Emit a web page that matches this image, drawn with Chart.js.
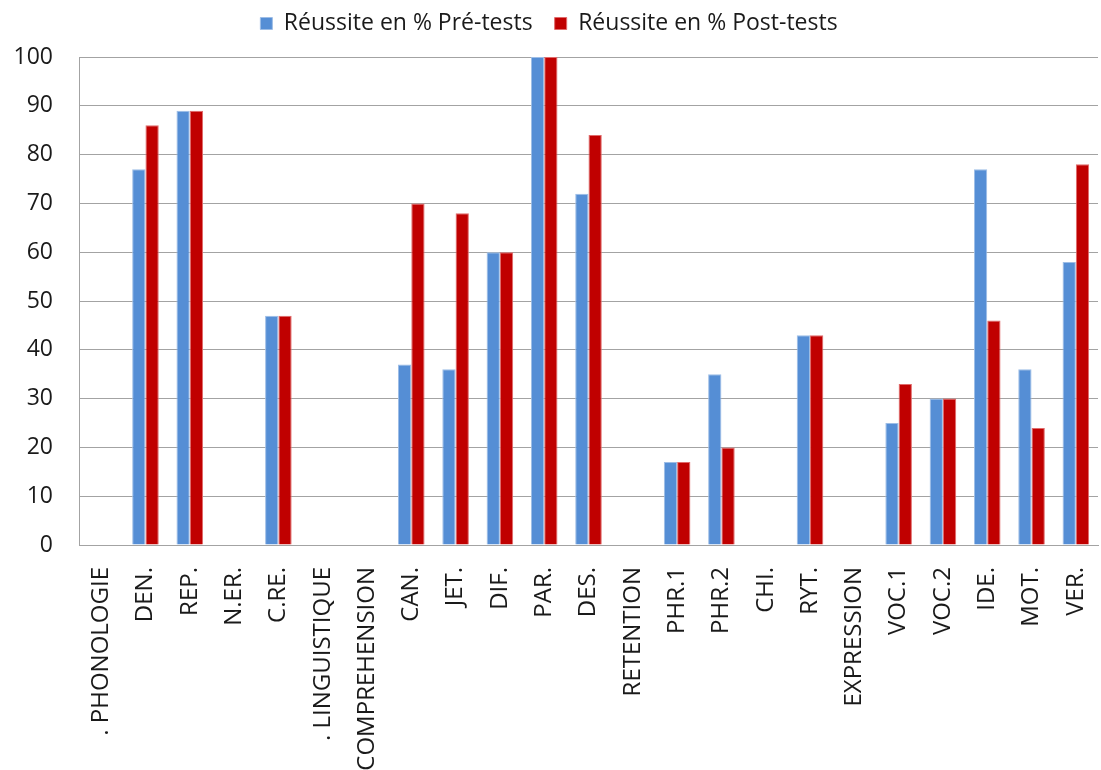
<!DOCTYPE html>
<html>
<head>
<meta charset="utf-8">
<script src="https://cdn.jsdelivr.net/npm/chart.js@4/dist/chart.umd.min.js"></script>
<style>
  html, body { margin: 0; padding: 0; background: #ffffff; }
  #wrap { width: 1101px; height: 770px; }
</style>
</head>
<body>
<div id="wrap"><canvas id="c" width="1101" height="770"></canvas></div>
<script>
const categories = [". PHONOLOGIE", "DEN.", "REP.", "N.ER.", "C.RE.", ". LINGUISTIQUE", "COMPREHENSION",
  "CAN.", "JET.", "DIF.", "PAR.", "DES.", "RETENTION", "PHR.1", "PHR.2", "CHI.", "RYT.",
  "EXPRESSION", "VOC.1", "VOC.2", "IDE.", "MOT.", "VER."];
const preTests  = [null, 77, 89, null, 47, null, null, 37, 36, 60, 100, 72, null, 17, 35, null, 43, null, 25, 30, 77, 36, 58];
const postTests = [null, 86, 89, null, 47, null, null, 70, 68, 60, 100, 84, null, 17, 20, null, 43, null, 33, 30, 46, 24, 78];
const seriesNames = ["Réussite en % Pré-tests", "Réussite en % Post-tests"];
const yTicks = [0, 10, 20, 30, 40, 50, 60, 70, 80, 90, 100];

const FONT = "'Open Sans', 'DejaVu Sans', sans-serif";
const gridColor = "#a3a3a3";

// moves the legend up a little after layout (Excel places it higher above the plot)
const legendShift = {
  id: "legendShift",
  afterLayout(chart) {
    const lg = chart.legend;
    if (lg) { lg.top -= 12; lg.bottom -= 12; }
  }
};

new Chart(document.getElementById("c"), {
  type: "bar",
  data: {
    labels: categories,
    datasets: [
      { label: seriesNames[0], data: preTests, backgroundColor: "#558ed5", borderColor: "#9dbde6", borderWidth: 1 },
      { label: seriesNames[1], data: postTests, backgroundColor: "#c00000", borderColor: "#e06a6a", borderWidth: 1 }
    ]
  },
  plugins: [legendShift],
  options: {
    responsive: false,
    animation: false,
    layout: { padding: { top: 0, right: 3, left: 0, bottom: 0 } },
    datasets: { bar: { categoryPercentage: 0.6, barPercentage: 1.0 } },
    plugins: {
      tooltip: { enabled: false },
      legend: {
        position: "top",
        labels: {
          font: { family: FONT, size: 23 },
          color: "#1a1a1a",
          boxWidth: 12,
          boxHeight: 12,
          padding: 22
        }
      }
    },
    scales: {
      x: {
        grid: { display: false, drawTicks: false },
        border: { display: true, color: gridColor, width: 1 },
        ticks: {
          autoSkip: false,
          maxRotation: 90,
          minRotation: 90,
          padding: 22,
          color: "#1a1a1a",
          font: { family: FONT, size: 24 }
        },
        afterFit: (s) => { s.height = 225; s.paddingLeft = 0; s.paddingRight = 0; }
      },
      y: {
        min: 0,
        max: 100,
        afterBuildTicks: (s) => { s.ticks = yTicks.map(v => ({ value: v })); },
        grid: { color: gridColor, lineWidth: 1, drawTicks: false },
        border: { display: true, color: gridColor, width: 1 },
        ticks: {
          padding: 26,
          color: "#1a1a1a",
          font: { family: FONT, size: 23 }
        },
        afterFit: (s) => { s.width = 79; s.paddingTop = 57; }
      }
    }
  }
});
</script>
</body>
</html>
